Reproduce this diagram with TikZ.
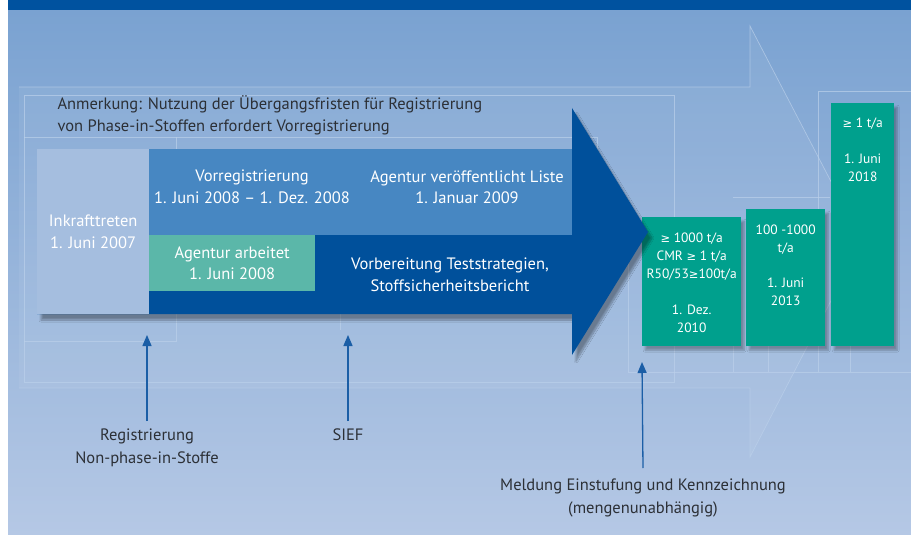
\documentclass[tikz,border=0pt]{standalone}
\usepackage{fontspec}
\setmainfont{PT Sans}
\newfontfamily\signfont{DejaVu Sans}
\newcommand{\atleast}{{\signfont\fontsize{11.5}{10}\selectfont ≥}}
\usetikzlibrary{arrows.meta}
\usetikzlibrary{shadows.blur}

\definecolor{bgtop}{HTML}{7AA2D1}
\definecolor{bgbottom}{HTML}{B5C8E5}
\definecolor{headband}{HTML}{00529F}
\definecolor{reachdark}{HTML}{00509B}
\definecolor{reachmid}{HTML}{4787C2}
\definecolor{reachpale}{HTML}{A5BEDF}
\definecolor{agencygreen}{HTML}{5BB7A9}
\definecolor{deadlinegreen}{HTML}{00A08D}
\definecolor{notetext}{HTML}{2C3036}
\definecolor{pointer}{HTML}{1B5EA6}
\definecolor{frameline}{HTML}{BBD0EA}

\tikzset{
  stagetext/.style={text=white, align=center, font=\fontsize{16.5}{21.5}\selectfont},
  labeltext/.style={text=notetext, align=center, font=\fontsize{16.5}{23}\selectfont},
  boxtext/.style={text=white, align=center, inner sep=0pt, font=\fontsize{13.5}{18}\selectfont},
  deadline/.style={fill=deadlinegreen, anchor=north west, inner sep=0pt,
    blur shadow={shadow xshift=3pt, shadow yshift=-4pt, shadow opacity=30, shadow blur steps=8}},
  pointerarrow/.style={draw=pointer, line width=1.3pt, -{Triangle[width=9pt,length=11pt]}},
  frame/.style={draw=frameline, line width=0.7pt, opacity=0.7}
}

\begin{document}
\begin{tikzpicture}[x=1pt,y=-1pt]
  \useasboundingbox (0,0) rectangle (911,535);
  \fill[white] (0,0) rectangle (911,535);
  % background and title band
  \shade[top color=bgtop, bottom color=bgbottom] (8,10) rectangle (911,535);
  \fill[headband] (8,0) rectangle (911,10);

  % faint arrow behind everything
  \fill[white, opacity=0.06] (19,87) -- (750,87) -- (750,26) -- (862,241)
    -- (750,457) -- (750,388) -- (19,388) -- cycle;
  \draw[frame] (19,87) -- (750,87) -- (750,26) -- (862,241)
    -- (750,457) -- (750,388) -- (19,388);

  % thin frame lines
  \draw[frame] (24,95) rectangle (674,382);
  \draw[frame] (24,137) -- (597,137) -- (597,149);
  \draw[frame] (176,137) -- (176,149);
  \draw[frame] (24,341) -- (176,341) -- (176,314);
  \draw[frame] (340,314) -- (340,330);
  \draw[frame] (911,91) -- (818,91) -- (818,372);
  \draw[frame] (733,197) -- (830,197);
  \draw[frame] (628,237) -- (628,372) -- (911,372);
  \draw[frame] (733,346) -- (733,372);
  \draw[frame] (768,346) -- (768,372);
  \draw[frame] (850,346) -- (850,372);

  % note above the timeline
  \node[labeltext, align=left, anchor=north west, font=\fontsize{16.5}{22.5}\selectfont]
    (note) at (54,92) {Anmerkung: Nutzung der Übergangsfristen für Registrierung\\
      von Phase-in-Stoffen erfordert Vorregistrierung};

  % first deadline sits under the arrow tip
  \node[deadline, minimum width=99, minimum height=129] (d2010) at (642,217) {};

  % main timeline arrow
  \fill[reachdark, blur shadow={shadow xshift=4pt, shadow yshift=-6pt, shadow opacity=35, shadow blur steps=10}]
    (37,149) -- (572,149) -- (572,108) -- (648,232) -- (572,355) -- (572,314)
    -- (37,314) -- cycle;
  \fill[reachmid] (149,149) rectangle (572,235);
  \node[fill=reachpale, anchor=north west, inner sep=0pt, minimum width=112,
    minimum height=165] (entry) at (37,149) {};
  \node[fill=agencygreen, anchor=north west, inner sep=0pt, minimum width=166,
    minimum height=56] (agency) at (149,235) {};

  \node[stagetext] (entrytext) at (entry.center) {Inkrafttreten\\1. Juni 2007};
  \node[stagetext] (prereg) at (252,187) {Vorregistrierung\\1. Juni 2008 – 1. Dez. 2008};
  \node[stagetext] (list) at (467,187) {Agentur veröffentlicht Liste\\1. Januar 2009};
  \node[stagetext] (agencytext) at (agency.center) {Agentur arbeitet\\1. Juni 2008};
  \node[stagetext] (prepare) at (450,275) {Vorbereitung Teststrategien,\\Stoffsicherheitsbericht};

  % later registration deadlines
  \node[deadline, minimum width=79, minimum height=137] (d2013) at (746,209) {};
  \node[deadline, minimum width=63, minimum height=243] (d2018) at (831,103) {};

  \node[boxtext, anchor=north] (t2010) at ([yshift=-16pt]d2010.north)
    {\atleast{} 1000 t/a\\CMR \atleast{} 1 t/a\\R50/53\atleast100t/a\\[18pt]1. Dez.\\2010};
  \node[boxtext, anchor=north] (t2013) at ([yshift=-16pt]d2013.north)
    {100 -1000\\t/a\\[17pt]1. Juni\\2013};
  \node[boxtext, anchor=north] (t2018) at ([yshift=-15pt]d2018.north)
    {\atleast{} 1 t/a\\[18pt]1. Juni\\2018};

  % pointers from below
  \node[labeltext, anchor=north] (nonphase) at (147,425) {Registrierung\\Non-phase-in-Stoffe};
  \node[labeltext, anchor=north] (sief) at (348,425) {SIEF};
  \node[labeltext, anchor=north] (notify) at (643,475)
    {Meldung Einstufung und Kennzeichnung\\(mengenunabhängig)};
  \coordinate (nonphasetip) at (147,335);
  \coordinate (sieftip) at (348,335);
  \coordinate (notifytip) at (642,362);
  \draw[pointerarrow] ([yshift=4pt]nonphase.north) -- (nonphasetip);
  \draw[pointerarrow] ([yshift=4pt]sief.north) -- (sieftip);
  \draw[pointerarrow] ([yshift=7pt]notify.north) -- (notifytip);
\end{tikzpicture}
\end{document}
